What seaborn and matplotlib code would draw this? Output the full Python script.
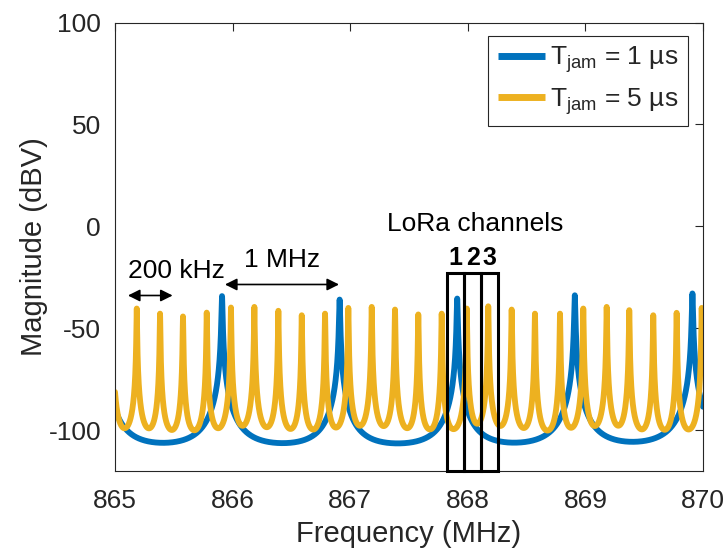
import matplotlib
matplotlib.use("Agg")
import matplotlib.pyplot as plt
import matplotlib.patches as patches
import numpy as np
import pandas as pd
import seaborn as sns

# peak frequencies (MHz) and peak levels (dBV)
blue_peak_freq = [864.91, 865.91, 866.91, 867.91, 868.91, 869.91, 870.91]
blue_peak_db = [-34.0, -34.2, -35.9, -35.4, -33.8, -32.9, -33.0]
blue_floor_db = -111.0
blue_width = 0.0035

yellow_peak_freq = [864.978, 865.185, 865.383, 865.578, 865.780, 865.986, 866.185, 866.389,
                    866.588, 866.786, 866.984, 867.183, 867.381, 867.579, 867.778, 867.991,
                    868.174, 868.373, 868.571, 868.784, 868.982, 869.181, 869.373, 869.577,
                    869.776, 869.989, 870.19]
yellow_peak_db = [-40.0, -40.3, -42.8, -44.2, -42.3, -39.8, -39.5, -41.4,
                  -43.6, -42.8, -40.0, -39.5, -40.8, -43.2, -42.8, -40.3,
                  -39.2, -40.8, -42.8, -42.8, -40.3, -39.5, -41.1, -43.6,
                  -42.4, -40.0, -40.0]
yellow_floor_db = -110.0
yellow_width = 0.002

series_labels = [r"T$_{\mathrm{jam}}$ = 1 µs", r"T$_{\mathrm{jam}}$ = 5 µs"]
series_colors = ["#0072BD", "#EDB120"]

lora_edges = [867.826, 867.970, 868.112, 868.259]
lora_labels = ["1", "2", "3"]

x_ticks = [865, 866, 867, 868, 869, 870]
y_ticks = [-100, -50, 0, 50, 100]


def resonance(f, centers, peaks_db, width, floor_db):
    # sum of resonance lines in linear amplitude, back to dB
    amp = np.full_like(f, 10 ** (floor_db / 20))
    for c, p in zip(centers, peaks_db):
        amp += 10 ** (p / 20) / (1 + ((f - c) / width) ** 2)
    return 20 * np.log10(amp)


freq = np.linspace(865, 870, 10001)
df = pd.DataFrame({
    "freq": np.concatenate([freq, freq]),
    "mag": np.concatenate([
        resonance(freq, blue_peak_freq, blue_peak_db, blue_width, blue_floor_db),
        resonance(freq, yellow_peak_freq, yellow_peak_db, yellow_width, yellow_floor_db),
    ]),
    "series": [series_labels[0]] * len(freq) + [series_labels[1]] * len(freq),
})

sns.set_theme(style="white")
plt.rcParams["font.family"] = ["Liberation Sans", "DejaVu Sans"]
plt.rcParams["mathtext.fontset"] = "custom"
plt.rcParams["mathtext.rm"] = "Liberation Sans"
plt.rcParams["mathtext.it"] = "Liberation Sans:italic"
plt.rcParams["axes.unicode_minus"] = False

fig = plt.figure(figsize=(7.26, 5.52), dpi=100)
ax = fig.add_axes([0.1584, 0.1467, 0.8099, 0.8125])

sns.lineplot(data=df, x="freq", y="mag", hue="series", palette=series_colors,
             hue_order=series_labels, linewidth=4.2, ax=ax, sort=False,
             estimator=None, solid_capstyle="round", solid_joinstyle="round")

dark = "#262626"

# LoRa channel boxes
for left, right, lab in zip(lora_edges[:-1], lora_edges[1:], lora_labels):
    ax.add_patch(patches.Rectangle((left, -120), right - left, 97, fill=False,
                                   edgecolor="black", linewidth=2.2, zorder=5, clip_on=False))
    ax.text((left + right) / 2, -15.5, lab, ha="center", va="center",
            fontsize=18, fontweight="bold", color="black")
ax.text(868.065, 1.2, "LoRa channels", ha="center", va="center", fontsize=19, color="black")

# spacing arrows
arrow_props = dict(arrowstyle="<|-|>", color="black", lw=1.2, mutation_scale=18,
                   shrinkA=0, shrinkB=0)
ax.annotate("", xy=(865.11, -33.9), xytext=(865.49, -33.9), arrowprops=arrow_props)
ax.annotate("", xy=(865.935, -28.5), xytext=(866.905, -28.5), arrowprops=arrow_props)
ax.text(865.52, -21.9, "200 kHz", ha="center", va="center", fontsize=19, color="black")
ax.text(866.42, -16.7, "1 MHz", ha="center", va="center", fontsize=19, color="black")

ax.set_xlim(865, 870)
ax.set_ylim(-120, 100)
ax.set_xticks(x_ticks)
ax.set_yticks(y_ticks)
ax.set_xlabel("Frequency (MHz)", fontsize=21, color=dark, labelpad=5)
ax.set_ylabel("Magnitude (dBV)", fontsize=21, color=dark, labelpad=0)
ax.tick_params(direction="in", length=6, width=0.8, colors=dark, labelsize=19,
               top=True, right=True)
ax.tick_params(axis="x", pad=13)
ax.tick_params(axis="y", pad=10)
for s in ax.spines.values():
    s.set_color(dark)
    s.set_linewidth(0.8)

leg = ax.legend(loc="upper right", bbox_to_anchor=(0.9745, 0.971), borderaxespad=0,
                fontsize=19, frameon=True, fancybox=False, framealpha=1,
                edgecolor=dark, handlelength=1.8, handletextpad=0.2,
                labelspacing=0.4, borderpad=0.35)
leg.get_frame().set_linewidth(0.8)
for line in leg.get_lines():
    line.set_linewidth(5)
    line.set_solid_capstyle("butt")

fig.savefig("out.png", dpi=100)
